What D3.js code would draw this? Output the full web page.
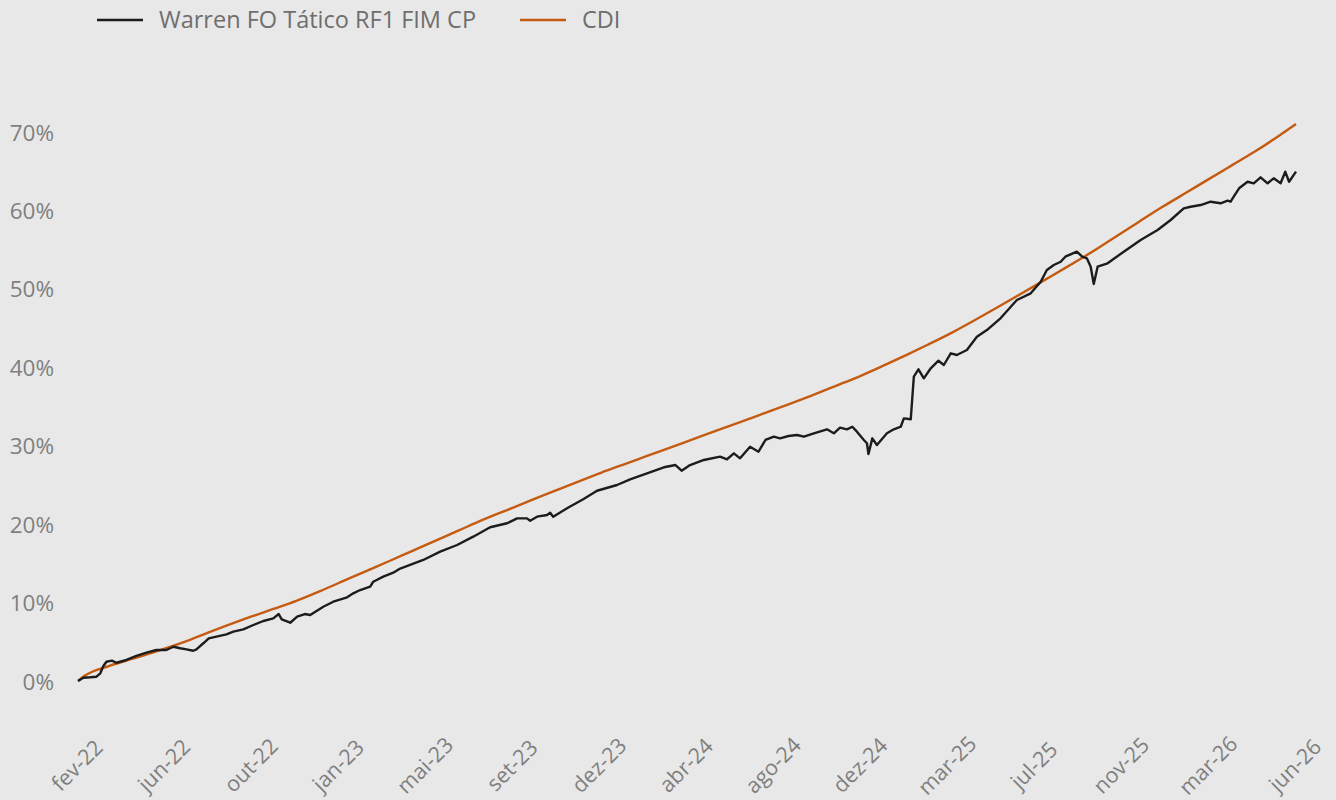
<!DOCTYPE html>
<html>
<head>
<meta charset="utf-8">
<script src="https://cdn.jsdelivr.net/npm/d3@7"></script>
<style>
html,body{margin:0;padding:0;background:#e8e8e8;}
svg{display:block;}
</style>
</head>
<body>
<svg id="chart" width="1336" height="800"></svg>
<script>
// ---------- DATA ----------
const seriesNames = ["Warren FO Tático RF1 FIM CP", "CDI"];
const seriesColors = ["#1c1c1c", "#c55a11"];

const fundDates = [
"2022-02-20","2022-02-27","2022-03-08","2022-03-16","2022-03-21","2022-03-25","2022-03-29","2022-04-05","2022-04-11","2022-04-24",
"2022-05-07","2022-05-20","2022-06-02","2022-06-15","2022-06-24","2022-07-03","2022-07-11","2022-07-20","2022-07-24","2022-08-02",
"2022-08-09","2022-08-19","2022-09-01","2022-09-10","2022-09-23","2022-10-06","2022-10-19","2022-11-01","2022-11-08","2022-11-12",
"2022-11-23","2022-12-02","2022-12-12","2022-12-19","2023-01-05","2023-01-18","2023-02-05","2023-02-13","2023-02-22","2023-03-07",
"2023-03-11","2023-03-24","2023-04-06","2023-04-15","2023-05-15","2023-06-06","2023-06-28","2023-07-19","2023-08-10","2023-09-01",
"2023-09-14","2023-09-27","2023-10-01","2023-10-10","2023-10-23","2023-10-27","2023-10-31","2023-11-18","2023-12-09","2023-12-27",
"2024-01-22","2024-02-08","2024-03-01","2024-03-23","2024-04-07","2024-04-15","2024-04-26","2024-05-14","2024-06-04","2024-06-13",
"2024-06-22","2024-06-30","2024-07-13","2024-07-24","2024-08-02","2024-08-13","2024-08-21","2024-09-01","2024-09-12","2024-09-21",
"2024-10-04","2024-10-21","2024-10-30","2024-11-07","2024-11-16","2024-11-23","2024-11-29","2024-12-08","2024-12-12","2024-12-14",
"2024-12-19","2024-12-25","2025-01-07","2025-01-16","2025-01-25","2025-01-29","2025-02-07","2025-02-11","2025-02-17","2025-02-24",
"2025-03-05","2025-03-15","2025-03-22","2025-03-31","2025-04-08","2025-04-21","2025-05-04","2025-05-17","2025-06-04","2025-06-25",
"2025-07-13","2025-07-26","2025-08-03","2025-08-12","2025-08-21","2025-08-27","2025-09-11","2025-09-18","2025-09-24","2025-09-29",
"2025-10-03","2025-10-08","2025-10-21","2025-11-11","2025-12-03","2025-12-25","2026-01-11","2026-01-28","2026-02-06","2026-02-19",
"2026-03-04","2026-03-17","2026-03-26","2026-03-30","2026-04-03","2026-04-10","2026-04-21","2026-04-29","2026-05-08","2026-05-17",
"2026-05-25","2026-06-03","2026-06-09","2026-06-14","2026-06-23"
];
const fundValues = [
0.00,0.42,0.47,0.55,0.98,1.91,2.46,2.59,2.33,2.68,
3.19,3.61,3.95,3.95,4.37,4.17,4.04,3.86,4.04,4.81,
5.44,5.65,5.95,6.29,6.59,7.14,7.65,7.99,8.54,7.87,
7.43,8.20,8.54,8.42,9.47,10.11,10.67,11.18,11.60,12.02,
12.66,13.30,13.81,14.34,15.43,16.49,17.34,18.40,19.60,20.11,
20.74,20.74,20.44,20.95,21.17,21.46,20.95,22.02,23.17,24.26,
24.99,25.72,26.48,27.25,27.54,26.81,27.54,28.18,28.60,28.27,
29.03,28.39,29.87,29.24,30.73,31.15,30.94,31.24,31.37,31.15,
31.58,32.09,31.58,32.30,32.09,32.42,31.79,30.73,30.31,28.94,
30.94,30.09,31.58,32.09,32.42,33.49,33.37,38.80,39.74,38.59,
39.87,40.84,40.29,41.78,41.57,42.20,43.90,44.75,46.28,48.58,
49.43,50.91,52.40,53.04,53.46,54.10,54.74,54.10,53.90,52.82,
50.62,52.82,53.26,54.74,56.23,57.50,58.78,60.27,60.47,60.69,
61.11,60.91,61.24,61.11,61.75,62.82,63.66,63.46,64.22,63.46,
64.09,63.46,64.94,63.66,64.94
];

const cdiDates = [
"2022-02-20","2022-03-01","2022-04-01","2022-05-01","2022-06-01","2022-07-01","2022-08-01","2022-09-01","2022-10-01","2022-11-01","2022-12-01",
"2023-01-01","2023-02-01","2023-03-01","2023-04-01","2023-05-01","2023-06-01","2023-07-01","2023-08-01","2023-09-01","2023-10-01","2023-11-01","2023-12-01",
"2024-01-01","2024-02-01","2024-03-01","2024-04-01","2024-05-01","2024-06-01","2024-07-01","2024-08-01","2024-09-01","2024-10-01","2024-11-01","2024-12-01",
"2025-01-01","2025-02-01","2025-03-01","2025-04-01","2025-05-01","2025-06-01","2025-07-01","2025-08-01","2025-09-01","2025-10-01","2025-11-01","2025-12-01",
"2026-01-01","2026-02-01","2026-03-01","2026-04-01","2026-05-01","2026-06-01","2026-06-23"
];
const cdiValues = [
0.00,0.69,1.91,2.81,3.74,4.72,5.89,7.05,8.13,9.19,10.23,
11.47,12.79,13.99,15.30,16.60,17.93,19.23,20.57,21.80,22.99,24.20,25.37,
26.55,27.66,28.69,29.80,30.87,31.98,33.05,34.16,35.27,36.40,37.61,38.79,
40.14,41.55,42.87,44.39,46.00,47.71,49.41,51.18,52.96,54.73,56.68,58.57,
60.49,62.31,63.96,65.78,67.54,69.53,71.02
];

const yTickValues = [0,10,20,30,40,50,60,70];
const xTickLabels = ["fev-22","jun-22","out-22","jan-23","mai-23","set-23","dez-23","abr-24","ago-24","dez-24","mar-25","jul-25","nov-25","mar-26","jun-26"];
const xDomain = ["2022-02-20","2026-06-23"];

// ---------- CHART ----------
const parse = d3.timeParse("%Y-%m-%d");
const svg = d3.select("#chart");
const FONT = "'Open Sans', sans-serif";

const x = d3.scaleTime().domain(xDomain.map(parse)).range([78, 1296]);
const y = d3.scaleLinear().domain([0, 70]).range([681, 132]);

const fund = fundDates.map((d,i)=>({date:parse(d), v:fundValues[i]}));
const cdi = cdiDates.map((d,i)=>({date:parse(d), v:cdiValues[i]}));

// Y axis
const yAxis = d3.axisLeft(y).tickValues(yTickValues).tickFormat(d=>d+"%").tickSize(0).tickPadding(0);
const gy = svg.append("g").attr("transform","translate(54,0)").call(yAxis);
gy.select(".domain").remove();
gy.selectAll("text").attr("font-family",FONT).attr("font-size",22.5).attr("fill","#7f7f7f").attr("dy","0.36em");

// X axis: evenly spaced ticks over the domain
const [d0,d1] = x.domain();
const xTicks = xTickLabels.map((lab,i)=>({lab, date:new Date(+d0 + (d1-d0)*i/(xTickLabels.length-1))}));
const xAxis = d3.axisBottom(x).tickValues(xTicks.map(t=>t.date))
  .tickFormat((d,i)=>xTickLabels[i]).tickSize(0).tickPadding(0);
const gx = svg.append("g").attr("transform","translate(0,764)").call(xAxis);
gx.select(".domain").remove();
gx.selectAll("text")
  .attr("font-family",FONT).attr("font-size",21.5).attr("fill","#7f7f7f")
  .attr("text-anchor","middle").attr("dy","0.35em").attr("y",0).attr("x",-2)
  .attr("transform","rotate(-45)");

// Lines
const line = d3.line().x(d=>x(d.date)).y(d=>y(d.v));
svg.append("path").datum(cdi)
  .attr("d", line.curve(d3.curveMonotoneX)(cdi))
  .attr("fill","none").attr("stroke",seriesColors[1]).attr("stroke-width",2.4);
svg.append("path").datum(fund)
  .attr("d", d3.line().x(d=>x(d.date)).y(d=>y(d.v))(fund))
  .attr("fill","none").attr("stroke",seriesColors[0]).attr("stroke-width",2.4)
  .attr("stroke-linejoin","round");

// Legend
const legendItems = [{x0:97, tx:159},{x0:520, tx:582}];
legendItems.forEach((it,i)=>{
  svg.append("line").attr("x1",it.x0).attr("x2",it.x0+46).attr("y1",20).attr("y2",20)
    .attr("stroke",seriesColors[i]).attr("stroke-width",2.6);
  svg.append("text").attr("x",it.tx).attr("y",20).attr("dy","0.36em")
    .attr("font-family",FONT).attr("font-size",23.5).attr("fill","#6e6e6e")
    .text(seriesNames[i]);
});
</script>
</body>
</html>
